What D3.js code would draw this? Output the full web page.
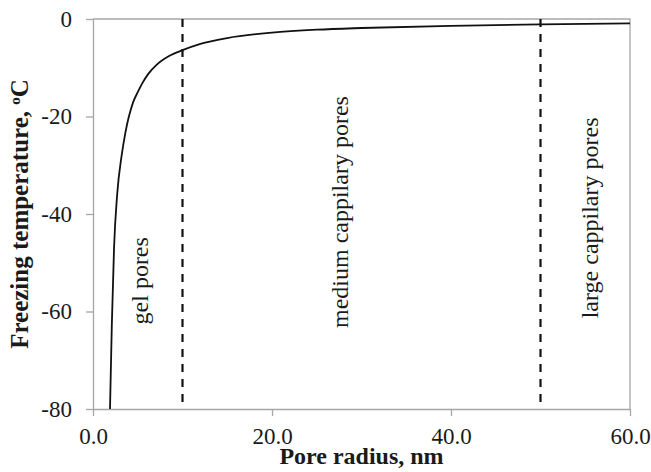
<!DOCTYPE html>
<html>
<head>
<meta charset="utf-8">
<script src="https://cdn.jsdelivr.net/npm/d3@7"></script>
<style>
  body { margin: 0; background: #fff; }
  svg text { font-family: "Liberation Serif", "Times New Roman", serif; }
</style>
</head>
<body>
<div id="chart"></div>
<script>
// data
const poreRadius = [1.9, 2.1, 2.35, 2.7, 3.2, 3.6, 4.5, 5.0, 5.5, 6.2, 7.1, 8.5, 10, 12, 15, 20, 25, 30, 40, 50, 60]
const freezeTemp = [-80, -63, -47, -36, -28, -23.5, -17, -15, -13.2, -11.2, -9.4, -7.6, -6.4, -5.1, -3.9, -2.8, -2.2, -1.85, -1.4, -1.1, -0.9]
const xTicks = [0, 20, 40, 60]
const yTicks = [0, -20, -40, -60, -80]
const boundaries = [10, 50]
const regionLabels = [
  {text: "gel pores", r: 6.15, t: -53.7},
  {text: "medium cappilary pores", r: 28.5, t: -39.6},
  {text: "large cappilary pores", r: 56.4, t: -40.8}
]

const width = 651
const height = 472
const margin = {top: 19, right: 21, bottom: 63, left: 93}
const axisGrey = "#a6a6a6"
const serif = "'Liberation Serif', 'Times New Roman', serif"

const svg = d3.select("#chart").append("svg")
  .attr("width", width)
  .attr("height", height)

const x = d3.scaleLinear().domain([0, 60]).range([margin.left, width - margin.right])
const y = d3.scaleLinear().domain([-80, 0]).range([height - margin.bottom, margin.top])

// plot frame (top and right borders)
svg.append("path")
  .attr("d", `M${x(0)},${y(0)}H${x(60)}V${y(-80)}`)
  .attr("fill", "none")
  .attr("stroke", axisGrey)
  .attr("stroke-width", 1.3)

// axes
const xAxis = svg.append("g")
  .attr("transform", `translate(0,${y(-80)})`)
  .call(d3.axisBottom(x).tickValues(xTicks).tickFormat(d3.format(".1f")).tickSize(7).tickPadding(12).tickSizeOuter(0))
const yAxis = svg.append("g")
  .attr("transform", `translate(${x(0)},0)`)
  .call(d3.axisLeft(y).tickValues(yTicks).tickFormat(d => String(d)).tickSize(7).tickPadding(14).tickSizeOuter(0))

;[xAxis, yAxis].forEach(ax => {
  ax.attr("font-family", serif).attr("font-size", 23)
  ax.select(".domain").attr("stroke", axisGrey).attr("stroke-width", 1.3)
  ax.selectAll(".tick line").attr("stroke", axisGrey).attr("stroke-width", 1.3)
  ax.selectAll(".tick text")
    .attr("fill", "#1a1a1a")
    .style("font-family", serif)
})

// boundary lines between pore classes
svg.selectAll(".boundary")
  .data(boundaries)
  .join("line")
    .attr("class", "boundary")
    .attr("x1", d => x(d)).attr("x2", d => x(d))
    .attr("y1", y(0)).attr("y2", y(-80))
    .attr("stroke", "#111")
    .attr("stroke-width", 2.2)
    .attr("stroke-dasharray", "8,7")

// freezing temperature curve
const pts = poreRadius.map((r, i) => [r, freezeTemp[i]])
const line = d3.line(d => x(d[0]), d => y(d[1])).curve(d3.curveMonotoneX)
svg.append("path")
  .datum(pts)
  .attr("d", line)
  .attr("fill", "none")
  .attr("stroke", "#111")
  .attr("stroke-width", 1.8)

// region labels (rotated)
svg.selectAll(".region-label")
  .data(regionLabels)
  .join("text")
    .attr("class", "region-label")
    .attr("transform", d => `translate(${x(d.r)},${y(d.t)}) rotate(-90)`)
    .attr("text-anchor", "middle")
    .attr("fill", "#1a1a1a")
    .attr("font-size", 24)
    .text(d => d.text)

// axis titles
svg.append("text")
  .attr("x", (x(0) + x(60)) / 2)
  .attr("y", 464)
  .attr("text-anchor", "middle")
  .attr("font-weight", "bold")
  .attr("fill", "#1a1a1a")
  .attr("font-size", 24)
  .text("Pore radius, nm")

const yTitle = svg.append("text")
  .attr("transform", `translate(28,${(y(0) + y(-80)) / 2}) rotate(-90)`)
  .attr("text-anchor", "middle")
  .attr("font-weight", "bold")
  .attr("fill", "#1a1a1a")
  .attr("font-size", 25)
yTitle.append("tspan").text("Freezing temperature, ")
yTitle.append("tspan").attr("baseline-shift", "super").attr("font-size", 15).text("o")
yTitle.append("tspan").text("C")
</script>
</body>
</html>
